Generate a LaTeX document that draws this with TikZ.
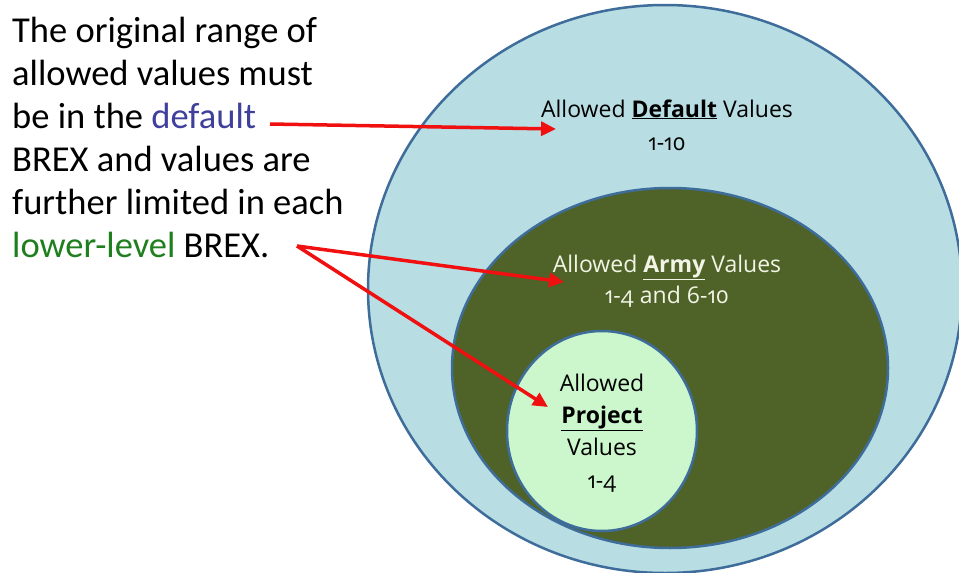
\documentclass[tikz,border=0pt]{standalone}
\usepackage{fontspec}
\setmainfont{Carlito}
\newfontfamily\lblfont[Numbers=OldStyle]{Open Sans}
\usetikzlibrary{arrows.meta}
\definecolor{outerfill}{HTML}{B8DDE3}
\definecolor{ringline}{HTML}{3E6D9C}
\definecolor{armyfill}{HTML}{4F6228}
\definecolor{projfill}{HTML}{CCF7CC}
\definecolor{defblue}{HTML}{3F3F9C}
\definecolor{lowgreen}{HTML}{1F7F1F}
\definecolor{armytext}{HTML}{F2F4E6}
\definecolor{arrowred}{HTML}{F01010}
\begin{document}
\begin{tikzpicture}[x=1pt,y=-1pt,
  para/.style={anchor=base west,inner sep=0pt,font=\fontsize{36.5}{43}\selectfont},
  region/.style={draw=ringline,line width=2.5pt},
  lbl/.style={anchor=base,inner sep=0pt,font=\lblfont\fontsize{23}{30}\selectfont},
  redarrow/.style={draw=arrowred,line width=3.5pt,-{Triangle[length=15pt,width=14pt]}}]
\useasboundingbox (0,0) rectangle (959,573);
\clip (0,0) rectangle (959,573);
% regions
\draw[region,fill=outerfill] (665,289) ellipse [x radius=297,y radius=284];
\draw[region,fill=armyfill] (670,368) ellipse [x radius=218,y radius=180];
\draw[region,fill=projfill] (602,431) ellipse [x radius=95,y radius=100];
\coordinate (outer) at (665,289);
\coordinate (army) at (670,368);
\coordinate (proj) at (602,431);
% labels
\node[lbl] (deflbl) at (667,117) {Allowed \underline{\textbf{Default}} Values};
\node[lbl] (defnum) at (667,150) {1-10};
\node[lbl,text=armytext] (armylbl) at (667,272) {Allowed \underline{\textbf{Army}} Values};
\node[lbl,text=armytext] (armynum) at (667,303) {1-4 and 6-10};
\node[lbl] (proj1) at (602,391) {Allowed};
\node[lbl] (proj2) at (602,423) {\underline{\textbf{Project}}};
\node[lbl] (proj3) at (602,455) {Values};
\node[lbl] (proj4) at (602,488) {1-4};
% paragraph
\node[para] (l1) at (12,42) {The original range of};
\node[para] (l2) at (12,85) {allowed values must};
\node[para] (l3) at (12,128) {be in the \textcolor{defblue}{default}};
\node[para] (l4) at (12,171) {BREX and values are};
\node[para] (l5) at (12,214) {further limited in each};
\node[para] (l6) at (12,257) {\textcolor{lowgreen}{lower-level} BREX.};
% arrows
\coordinate (a1s) at (270,124);
\coordinate (a1e) at (556,129);
\coordinate (a2s) at (297,246);
\coordinate (a2e) at (564,282);
\coordinate (a3e) at (548,407);
\draw[redarrow] (a1s) -- (a1e);
\draw[redarrow] (a2s) -- (a2e);
\draw[redarrow] (a2s) -- (a3e);
\end{tikzpicture}
\end{document}
